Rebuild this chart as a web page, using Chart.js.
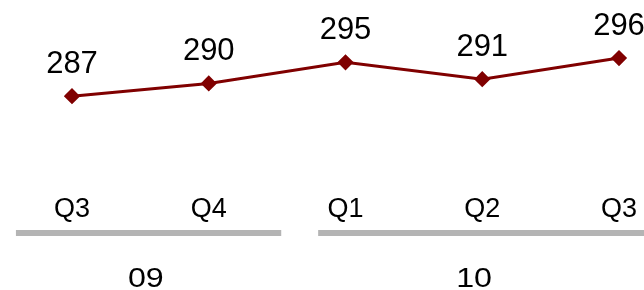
<!DOCTYPE html>
<html>

<head>
  <title>Quarterly values</title>
  <script src="https://cdn.jsdelivr.net/npm/chart.js"></script>
  <style>
    html, body { margin: 0; padding: 0; background: #fff; }
    #wrap { width: 644px; height: 290px; position: relative; }
  </style>
</head>

<body>
  <div id="wrap">
    <canvas id="quarterChart"></canvas>
  </div>
  <script>
    // chart data
    var quarters = ['Q3', 'Q4', 'Q1', 'Q2', 'Q3'];
    var values = [287, 290, 295, 291, 296];
    var years = ['09', '10'];
    // which quarter indexes belong to each year (first, last)
    var yearSpans = [[0, 1], [2, 4]];

    var lineColor = '#800000';
    var fontFamily = '"Liberation Sans", Arial, Helvetica, sans-serif';

    // value labels above each point
    var pointLabels = {
      id: 'pointLabels',
      afterDatasetsDraw: function (chart) {
        var ctx = chart.ctx;
        var meta = chart.getDatasetMeta(0);
        ctx.save();
        ctx.font = '31px ' + fontFamily;
        ctx.fillStyle = '#000';
        ctx.textAlign = 'center';
        ctx.textBaseline = 'alphabetic';
        meta.data.forEach(function (pt, i) {
          ctx.fillText(String(values[i]), pt.x, pt.y - 23);
        });
        ctx.restore();
      }
    };

    // grey bars under the quarters and the year names below them
    // (how far each bar sticks out past its first / last quarter, in steps)
    var barLead = [0.41, 0.2];
    var barTail = [0.53, 0.3];
    var labelPos = [0.54, 0.94];

    var yearGroups = {
      id: 'yearGroups',
      afterDraw: function (chart) {
        var ctx = chart.ctx;
        var xs = chart.scales.x;
        var step = xs.getPixelForValue(1) - xs.getPixelForValue(0);
        ctx.save();
        ctx.strokeStyle = '#b4b4b4';
        ctx.lineWidth = 6;
        yearSpans.forEach(function (span, i) {
          var x0 = xs.getPixelForValue(span[0]) - step * barLead[i];
          var x1 = xs.getPixelForValue(span[1]) + step * barTail[i];
          var mid = xs.getPixelForValue(span[0]) + step * labelPos[i];
          ctx.beginPath();
          ctx.moveTo(x0, 233);
          ctx.lineTo(x1, 233);
          ctx.stroke();
          // year label, a bit wider like the original
          ctx.save();
          ctx.translate(mid, 286.5);
          ctx.scale(1.15, 1);
          ctx.font = '28px ' + fontFamily;
          ctx.fillStyle = '#000';
          ctx.textAlign = 'center';
          ctx.textBaseline = 'alphabetic';
          ctx.fillText(years[i], 0, 0);
          ctx.restore();
        });
        ctx.restore();
      }
    };

    var chart = new Chart(document.getElementById('quarterChart'), {
      type: 'line',
      data: {
        labels: quarters,
        datasets: [{
          data: values,
          borderColor: lineColor,
          backgroundColor: lineColor,
          borderWidth: 3,
          pointStyle: 'rectRot',
          pointRadius: 6,
          pointHoverRadius: 6,
          tension: 0,
          fill: false
        }]
      },
      options: {
        responsive: true,
        maintainAspectRatio: false,
        animation: false,
        events: [],
        layout: {
          padding: { top: 41.2, bottom: 60.5, left: 72, right: 25 }
        },
        plugins: {
          legend: { display: false },
          tooltip: { enabled: false }
        },
        scales: {
          x: {
            offset: false,
            grid: { display: false, drawTicks: false },
            border: { display: false },
            ticks: {
              color: '#000',
              padding: 4,
              maxRotation: 0,
              autoSkip: false,
              font: { family: fontFamily, size: 27 }
            }
          },
          y: {
            display: false,
            min: 265,
            max: 300
          }
        }
      },
      plugins: [pointLabels, yearGroups]
    });
  </script>
</body>

</html>
